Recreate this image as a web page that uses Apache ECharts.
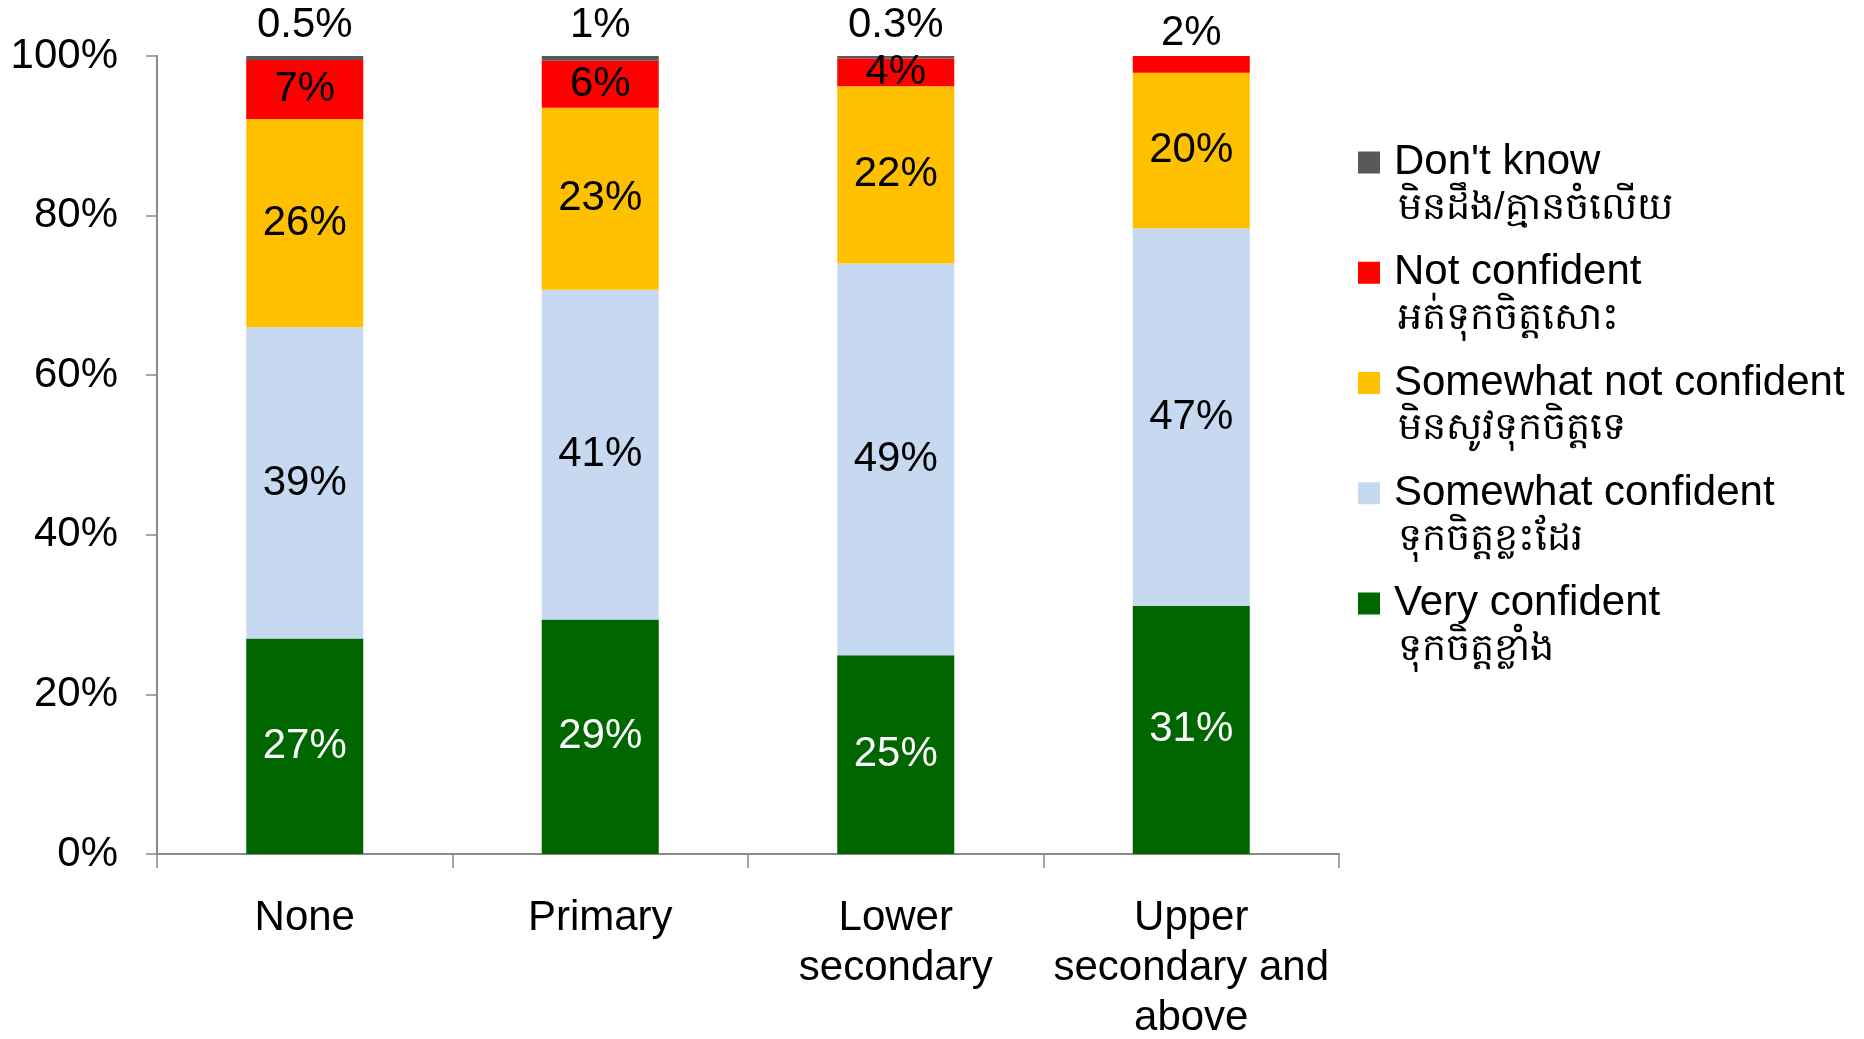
<!DOCTYPE html>
<html>
<head>
<meta charset="utf-8">
<script src="https://cdn.jsdelivr.net/npm/echarts@6/dist/echarts.min.js"></script>
<style>
html,body{margin:0;padding:0;background:#fff;}
#chart{width:1864px;height:1039px;}
</style>
</head>
<body>
<div id="chart"></div>
<script>
const categories = ['None', 'Primary', 'Lower\nsecondary', 'Upper\nsecondary and\nabove'];
const veryConfident = [27.0, 29.4, 24.9, 31.1];
const somewhatConfident = [39.0, 41.3, 49.1, 47.3];
const somewhatNotConfident = [26.1, 22.8, 22.2, 19.5];
const notConfident = [7.4, 5.9, 3.5, 2.1];
const dontKnow = [0.5, 0.6, 0.3, 0];

const seriesNames = ['Very confident', 'Somewhat confident', 'Somewhat not confident', 'Not confident', "Don't know"];
const seriesKhmer = ['ទុកចិត្តខ្លាំង', 'ទុកចិត្តខ្លះដែរ', 'មិនសូវទុកចិត្តទេ', 'អត់ទុកចិត្តសោះ', 'មិនដឹង/គ្មានចំលើយ'];
const seriesColors = ['#006600', '#C6D9F1', '#FFC000', '#FF0000', '#595959'];
const labelColors = ['#ffffff', '#000000', '#000000', '#000000', '#000000'];
const yTicks = [0, 20, 40, 60, 80, 100];

const FONT = "'Liberation Sans', Arial, sans-serif";
const FS = 42;

function fmt(v) {
  if (!v) return '';
  return (v < 0.55 ? v.toFixed(1) : Math.round(v)) + '%';
}

const seriesData = [veryConfident, somewhatConfident, somewhatNotConfident, notConfident, dontKnow];

const series = seriesData.map((arr, si) => ({
  name: seriesNames[si],
  type: 'bar',
  stack: 'total',
  barWidth: 117,
  itemStyle: { color: seriesColors[si] },
  label: {
    show: true,
    position: si === 4 ? 'top' : 'inside',
    distance: 10,
    color: labelColors[si],
    fontSize: FS,
    fontFamily: FONT,
    formatter: p => fmt(p.value)
  },
  data: arr.map((v, i) => {
    if (si === 3 && dontKnow[i] === 0) {
      return { value: v, label: { position: 'top', distance: 2 } };
    }
    return v;
  })
}));

// legend: one component per item, Don't know on top
const legendOrder = [4, 3, 2, 1, 0];
const LH = 46;
const legends = legendOrder.map((si, k) => ({
  show: true,
  orient: 'vertical',
  left: 1358,
  top: 160 + 110.25 * k - 18.5,
  padding: 0,
  icon: 'rect',
  itemWidth: 22,
  itemHeight: 22,
  itemGap: 0,
  selectedMode: false,
  data: [seriesNames[si]],
  formatter: name => '{en|' + name + '}\n{km|' + seriesKhmer[seriesNames.indexOf(name)] + '}',
  textStyle: {
    padding: [LH, 0, 0, 9],
    fontFamily: FONT,
    rich: {
      en: { fontSize: FS, lineHeight: LH, color: '#000', fontFamily: FONT },
      km: { fontSize: 38, lineHeight: LH, color: '#000', fontFamily: FONT, padding: [0, 0, 0, 4] }
    }
  }
}));

const chart = echarts.init(document.getElementById('chart'));
chart.setOption({
  backgroundColor: '#ffffff',
  animation: false,
  legend: legends,
  grid: { left: 157, right: 525, top: 56, bottom: 185, containLabel: false, outerBoundsMode: 'none' },
  xAxis: {
    type: 'category',
    data: categories,
    axisLine: { show: true, lineStyle: { color: '#898989', width: 2 } },
    axisTick: { show: true, length: 14, alignWithLabel: false, lineStyle: { color: '#898989', width: 1.5 } },
    axisLabel: {
      interval: 0,
      margin: 39,
      fontSize: FS,
      lineHeight: 50,
      color: '#000',
      fontFamily: FONT
    }
  },
  yAxis: {
    type: 'value',
    min: yTicks[0],
    max: yTicks[yTicks.length - 1],
    interval: yTicks[1] - yTicks[0],
    splitLine: { show: false },
    axisLine: { show: true, lineStyle: { color: '#898989', width: 2 } },
    axisTick: { show: true, length: 11, lineStyle: { color: '#898989', width: 1.5 } },
    axisLabel: {
      margin: 39,
      fontSize: FS,
      color: '#000',
      fontFamily: FONT,
      formatter: '{value}%'
    }
  },
  series: series
});
</script>
</body>
</html>
